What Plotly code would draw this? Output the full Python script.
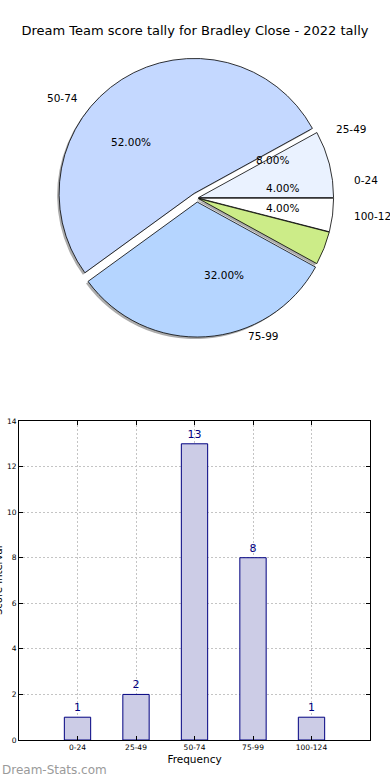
import math
import plotly.graph_objects as go

# ---------------- data ----------------
chart_title = "Dream Team score tally for Bradley Close - 2022 tally"
categories = ["0-24", "25-49", "50-74", "75-99", "100-124"]
counts = [1, 2, 13, 8, 1]
x_title = "Frequency"
y_title = "Score Interval"
watermark = "Dream-Stats.com"
y_ticks = [0, 2, 4, 6, 8, 10, 12, 14]

# ---------------- styles ----------------
slice_colors = ["#ffffff", "#eaf2ff", "#c4d8ff", "#b5d5ff", "#ccec88"]
pulls = [0.012, 0.012, 0.04, 0.03, 0.012]
FONT = "DejaVu Sans"

W, H = 390, 780
CX, CY, R = 197, 198, 135          # pie base centre / radius in pixels
TRX, TRY = 141, 128                # radii used to place pie texts
max_pull = max(pulls)
half = R * (1 + max_pull)
dom_x = [(CX - half) / W, (CX + half) / W]
dom_y = [1 - (CY + half) / H, 1 - (CY - half) / H]
SDX, SDY = -2, 2                   # shadow offset (px)

fig = go.Figure()

# shadow pie
fig.add_trace(go.Pie(
    labels=categories, values=counts, sort=False, direction="counterclockwise",
    rotation=90, pull=pulls, textinfo="none", hoverinfo="skip",
    marker=dict(colors=["#8a8a8a"] * len(counts), line=dict(width=0)),
    opacity=0.7, showlegend=False,
    domain=dict(x=[dom_x[0] + SDX / W, dom_x[1] + SDX / W],
                y=[dom_y[0] - SDY / H, dom_y[1] - SDY / H]),
))
# main pie
fig.add_trace(go.Pie(
    labels=categories, values=counts, sort=False, direction="counterclockwise",
    rotation=90, pull=pulls, textinfo="none", hoverinfo="label+percent",
    marker=dict(colors=slice_colors, line=dict(color="black", width=0.8)),
    showlegend=False, domain=dict(x=dom_x, y=dom_y),
))

# pie text: percentages inside, labels outside (computed from the data)
total = sum(counts)
annotations = []
cum = 0
for lab, v, p in zip(categories, counts, pulls):
    theta = math.radians(360.0 * (cum + v / 2) / total)
    cum += v
    c, s = math.cos(theta), math.sin(theta)
    ox, oy = CX + p * R * c, CY - p * R * s
    px, py = ox + 0.6 * TRX * c, oy - 0.6 * TRY * s
    annotations.append(dict(
        x=px / W, y=1 - py / H, xref="paper", yref="paper",
        text=f"{v / total * 100:.2f}%", showarrow=False,
        xanchor="center", yanchor="middle",
        font=dict(family=FONT, size=10.5, color="black")))
    lx, ly = ox + 1.1 * TRX * c, oy - 1.1 * TRY * s
    annotations.append(dict(
        x=lx / W, y=1 - ly / H, xref="paper", yref="paper",
        text=lab, showarrow=False,
        xanchor="right" if c < 0 else "left", yanchor="middle",
        font=dict(family=FONT, size=10.5, color="black")))

# bar chart
xs = list(range(len(categories)))
fig.add_trace(go.Bar(
    x=xs, y=counts, width=0.45,
    marker=dict(color="#ccccE6", line=dict(color="#000080", width=1)),
    text=[str(c) for c in counts], textposition="outside",
    textfont=dict(family=FONT, size=11, color="#000080"),
    cliponaxis=False, showlegend=False, xaxis="x", yaxis="y",
    hovertemplate="%{customdata}: %{y}<extra></extra>", customdata=categories,
))

# clipped y-axis title and watermark
annotations.append(dict(
    x=-2 / W, y=1 - 581 / H, xref="paper", yref="paper", text=y_title,
    textangle=-90, showarrow=False, xanchor="center", yanchor="middle",
    font=dict(family=FONT, size=10, color="black")))
annotations.append(dict(
    x=0, y=1 - 770 / H, xref="paper", yref="paper", text=watermark,
    showarrow=False, xanchor="left", yanchor="middle",
    font=dict(family=FONT, size=12, color="#9a9a9a")))

axis_common = dict(
    showgrid=True, gridcolor="#c4c4c4", griddash="2px,2px", gridwidth=1,
    showline=True, mirror="ticks", linecolor="black", linewidth=1,
    ticks="inside", ticklen=4, tickcolor="black", zeroline=False,
    automargin=False,
)

fig.update_layout(
    width=W, height=H, autosize=False,
    margin=dict(l=0, r=0, t=0, b=0, pad=0, autoexpand=False),
    paper_bgcolor="white", plot_bgcolor="white",
    font=dict(family=FONT, color="black"),
    title=dict(text=chart_title, x=0.5, xanchor="center",
               y=1 - 30 / H, yanchor="middle",
               font=dict(family=FONT, size=13, color="black")),
    xaxis=dict(domain=[19 / W, 370 / W], range=[-1, 5], tickvals=xs,
               ticktext=categories, tickfont=dict(size=7.5),
               title=dict(text=x_title, font=dict(size=10.5), standoff=4),
               **axis_common),
    yaxis=dict(domain=[1 - 740 / H, 1 - 421 / H], range=[0, 14],
               tickvals=y_ticks, tickfont=dict(size=7.5), **axis_common),
    annotations=annotations,
    showlegend=False,
)

fig.write_html(
    "out.html",
    config={"displayModeBar": False},
    post_script="document.body.style.margin='0';document.body.style.overflow='hidden';",
)
